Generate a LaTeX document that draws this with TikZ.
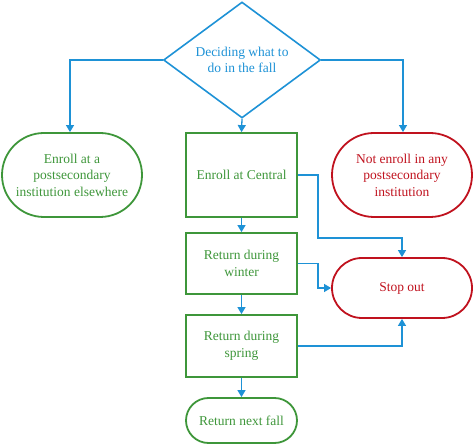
\documentclass[tikz,border=0pt]{standalone}
\usepackage{fontspec}
\setmainfont{Liberation Serif}
\usetikzlibrary{shapes.geometric,shapes.misc,arrows.meta}
\definecolor{fblue}{RGB}{30,146,214}
\definecolor{fgreen}{RGB}{62,150,58}
\definecolor{fred}{RGB}{192,18,30}
\tikzset{
  every node/.style={font=\fontsize{13.5}{16.5}\selectfont, align=center},
  decision/.style={diamond, draw=fblue, text=fblue, line width=1.6pt, minimum width=157pt, minimum height=116pt, inner sep=0pt, aspect=1.35},
  gterm/.style={rounded rectangle, draw=fgreen, text=fgreen, line width=1.8pt, inner sep=0pt},
  rterm/.style={rounded rectangle, draw=fred, text=fred, line width=1.8pt, inner sep=0pt},
  gbox/.style={rectangle, draw=fgreen, text=fgreen, line width=1.8pt, minimum width=111pt, inner sep=0pt},
  conn/.style={draw=fblue, line width=1.3pt, -{Triangle[length=7pt,width=8pt]}},
}
\begin{document}
\begin{tikzpicture}[x=1pt,y=-1pt]
\useasboundingbox (0,0) rectangle (474,446);
\node[decision] (dec) at (242,60) {Deciding what to\\do in the fall};
\node[gterm, minimum width=140pt, minimum height=84pt] (else) at (72,175) {Enroll at a\\postsecondary\\institution elsewhere};
\node[gbox, minimum height=84pt] (central) at (241.5,175) {Enroll at Central};
\node[rterm, minimum width=140pt, minimum height=84pt] (notenroll) at (402,175) {Not enroll in any\\postsecondary\\institution};
\node[gbox, minimum height=61pt] (winter) at (241.5,263.5) {Return during\\winter};
\node[gbox, minimum height=62pt] (spring) at (241.5,346) {Return during\\spring};
\node[gterm, minimum width=111pt, minimum height=45pt] (next) at (241.5,420.5) {Return next fall};
\node[rterm, minimum width=140pt, minimum height=60pt] (stop) at (402,288) {Stop out};
\coordinate (sl) at (70,60);
\coordinate (sr) at (403,60);
\draw[conn] (dec.west) -- (sl) -- (sl |- else.north);
\draw[conn] (dec.east) -- (sr) -- (sr |- notenroll.north);
\draw[conn] (dec.south) -- (central.north);
\draw[conn] (central.south) -- (winter.north);
\draw[conn] (winter.south) -- (spring.north);
\draw[conn] (spring.south) -- (next.north);
\coordinate (c1) at (318,175);
\coordinate (c2) at (318,238);
\draw[conn] (central.east) -- (c1) -- (c2) -- (c2 -| stop.north) -- (stop.north);
\coordinate (w1) at (318,263.5);
\draw[conn] (winter.east) -- (w1) -- (w1 |- stop.west) -- (stop.west);
\draw[conn] (spring.east) -- (spring.east -| stop.south) -- (stop.south);
\end{tikzpicture}
\end{document}
